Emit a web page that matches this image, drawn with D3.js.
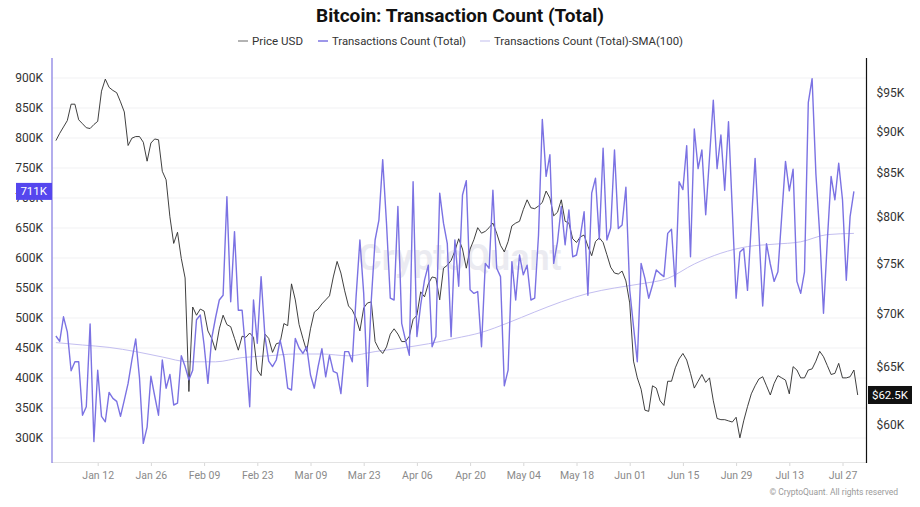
<!DOCTYPE html>
<html><head><meta charset="utf-8">
<script src="https://cdn.jsdelivr.net/npm/d3@7"></script>
<style>
body{margin:0;background:#fff;}
svg{display:block;font-family:Roboto,"Noto Sans",sans-serif;}
</style>
</head><body>
<svg id="chart" width="920" height="507"></svg>
<script>
// ---------------- DATA ----------------
const startDate = "2025-01-01";           // first daily observation
const seriesNames = ["Price USD", "Transactions Count (Total)", "Transactions Count (Total)-SMA(100)"];

// Transactions Count (Total), daily, in thousands
const txCountK = [470,461,502,477,412,427,427,338,352,490,
294,413,336,327,376,366,361,336,363,391,
430,465,400,291,318,403,370,338,430,383,
406,355,358,437,419,397,413,497,505,455,
391,466,500,530,538,702,527,644,513,513,
440,352,530,458,569,470,428,419,430,463,
435,383,380,466,450,441,452,405,383,419,
449,402,438,411,408,374,444,444,427,536,
630,541,386,530,630,663,764,658,533,530,
686,491,463,438,727,469,522,563,588,452,
469,708,658,624,469,630,553,705,729,547,
541,544,452,591,583,713,583,569,387,413,
594,530,605,572,588,530,533,638,831,736,
772,591,627,686,622,680,602,605,636,677,
538,708,733,631,783,630,650,780,649,655,
718,547,486,427,591,566,533,555,580,574,
569,641,648,552,727,714,787,602,815,749,
780,672,767,863,749,805,713,827,680,533,
610,616,546,656,766,643,520,624,590,561,
577,669,761,712,748,561,541,577,859,899,
740,640,508,628,736,697,758,697,563,669,
711];

// Price USD, daily, in thousands of dollars
const priceK = [88.9,89.8,90.6,91.4,93.5,93.5,91.5,91.0,90.5,90.4,
90.9,91.3,95.2,96.8,95.7,95.3,95.0,93.8,92.5,88.3,
89.2,89.4,89.4,88.7,86.4,88.6,89.1,89.0,85.2,84.2,
80.0,77.1,78.3,75.5,73.5,62.8,70.6,69.8,70.4,70.2,
68.3,67.6,66.5,68.5,69.8,68.9,68.7,67.6,66.5,67.8,
67.7,68.1,67.7,64.7,64.2,68.0,67.6,66.3,67.1,67.2,
69.0,68.8,72.9,71.3,68.9,67.6,66.4,68.5,70.1,70.4,
70.9,71.3,71.7,73.6,75.2,74.0,72.2,70.7,70.3,69.5,
68.3,70.5,71.0,71.1,67.3,66.6,66.2,66.8,68.0,68.5,
68.0,67.3,67.3,67.8,69.4,69.8,72.1,71.6,72.9,73.6,
73.5,71.3,74.5,74.8,75.3,76.3,77.6,76.5,74.5,76.5,
77.5,78.8,78.2,78.4,78.8,79.3,78.2,76.9,76.2,77.3,
79.0,79.3,79.5,80.8,81.9,81.0,80.9,81.2,81.6,82.9,
82.1,80.1,80.5,81.9,79.5,79.3,77.6,77.2,77.8,78.0,
76.8,75.8,77.3,77.7,77.2,75.9,74.6,74.0,73.9,74.2,
73.2,71.0,65.5,64.0,63.0,61.2,61.1,63.3,63.1,62.0,
61.6,63.7,63.7,64.9,65.7,66.2,65.6,64.4,63.1,63.7,
64.3,63.6,64.0,62.0,60.5,60.4,60.4,60.3,60.2,60.6,
58.9,60.3,61.5,62.6,63.3,63.9,64.1,63.3,62.5,63.5,
64.2,64.0,63.8,62.6,65.0,64.7,64.0,64.0,64.7,64.8,
65.5,66.4,65.9,65.1,64.3,64.4,65.3,64.0,64.0,64.1,
64.7,62.5];

// SMA(100) of transaction count, read weekly (day offset from startDate), in thousands
const smaDayOffsets = [0,7,14,21,28,35,42,49,56,63,70,77,84,91,98,105,112,119,126,133,140,147,154,161,168,175,182,189,196,203,210];
const smaK = [459,455,451,444,435,427,427,434,437,440,440,437,444,450,457,466,476,492,510,527,541,550,557,566,590,608,619,623,627,639,641];

// Tick labels
const leftTicksK = [300,350,400,450,500,550,600,650,700,750,800,850,900];
const rightTicksK = [60,65,70,75,80,85,90,95];
const xTickDates = ["2025-01-12","2025-01-26","2025-02-09","2025-02-23","2025-03-09","2025-03-23","2025-04-06","2025-04-20","2025-05-04","2025-05-18","2025-06-01","2025-06-15","2025-06-29","2025-07-13","2025-07-27"];

// ---------------- CHART ----------------
const parse = d3.utcParse("%Y-%m-%d");
const t0 = parse(startDate);
const dayAt = i => d3.utcDay.offset(t0, i);

const txData = txCountK.map((v, i) => ({date: dayAt(i), v}));
const priceData = priceK.map((v, i) => ({date: dayAt(i), v}));
const smaData = smaK.map((v, i) => ({date: dayAt(smaDayOffsets[i]), v}));

const svg = d3.select("#chart");
const L = 52, R = 866.5, T = 60, B = 462;

const x = d3.scaleUtc().domain([t0, dayAt(211)]).range([55.9, 857.7]);
const yL = d3.scaleLinear().domain([260, 930]).range([B, T]);
const yR = d3.scaleLog().domain([56.96, 99.4]).range([B, T]);

svg.append("rect").attr("width", 920).attr("height", 507).attr("fill", "#fff");

// title
svg.append("text").attr("x", 460).attr("y", 22).attr("text-anchor", "middle")
  .attr("font-size", 18).attr("font-weight", 700).attr("fill", "#111")
  .attr("textLength", 288).attr("lengthAdjust", "spacingAndGlyphs")
  .text("Bitcoin: Transaction Count (Total)");

// legend
const legendItems = [
  {name: seriesNames[0], color: "#9a9a9a", x: 238, w: 51},
  {name: seriesNames[1], color: "#7c74e2", x: 318, w: 134},
  {name: seriesNames[2], color: "#d6d3f3", x: 480, w: 189}
];
const lg = svg.append("g");
legendItems.forEach(it => {
  lg.append("line").attr("x1", it.x).attr("x2", it.x + 10).attr("y1", 41).attr("y2", 41)
    .attr("stroke", it.color).attr("stroke-width", 1.5);
  lg.append("text").attr("x", it.x + 14).attr("y", 45).attr("font-size", 11.5).attr("fill", "#333")
    .attr("textLength", it.w).attr("lengthAdjust", "spacingAndGlyphs").text(it.name);
});

// grid
svg.append("g").selectAll("line").data(leftTicksK).join("line")
  .attr("x1", L).attr("x2", R).attr("y1", d => yL(d)).attr("y2", d => yL(d))
  .attr("stroke", "#f1f1f3").attr("stroke-width", 1);

// watermark
svg.append("text").attr("x", 460).attr("y", 270).attr("text-anchor", "middle")
  .attr("font-size", 36).attr("font-weight", 600).attr("fill", "#dcdce6").attr("opacity", 0.55)
  .text("CryptoQuant");

// x axis
const xa = svg.append("g").attr("transform", `translate(0,${B})`)
  .call(d3.axisBottom(x).tickValues(xTickDates.map(parse)).tickSize(4).tickPadding(6)
    .tickFormat(d3.utcFormat("%b %d")));
xa.select(".domain").remove();
xa.selectAll(".tick line").attr("stroke", "#d8d8d8");
xa.selectAll(".tick text").attr("fill", "#8a8a8a").attr("font-size", 10.5).attr("font-family", "Roboto,sans-serif");
svg.append("line").attr("x1", L).attr("x2", R).attr("y1", B + 0.5).attr("y2", B + 0.5).attr("stroke", "#e3e3e3");

// left axis
const la = svg.append("g").attr("transform", `translate(${L},0)`)
  .call(d3.axisLeft(yL).tickValues(leftTicksK).tickSize(0).tickPadding(9).tickFormat(d => d + "K"));
la.select(".domain").remove();
la.selectAll(".tick text").attr("fill", "#333").attr("font-size", 12).attr("font-family", "Roboto,sans-serif");
svg.append("line").attr("x1", L).attr("x2", L).attr("y1", 58).attr("y2", B + 1).attr("stroke", "#8a82e4").attr("stroke-width", 1.3);

// right axis
const ra = svg.append("g").attr("transform", `translate(${R},0)`)
  .call(d3.axisRight(yR).tickValues(rightTicksK).tickSize(0).tickPadding(10).tickFormat(d => "$" + d + "K"));
ra.select(".domain").remove();
ra.selectAll(".tick text").attr("fill", "#333").attr("font-size", 12).attr("font-family", "Roboto,sans-serif");
svg.append("line").attr("x1", R).attr("x2", R).attr("y1", 58).attr("y2", B + 1).attr("stroke", "#111").attr("stroke-width", 1.2);

// series
svg.append("path").datum(smaData)
  .attr("fill", "none").attr("stroke", "#c3bef0").attr("stroke-width", 1)
  .attr("d", d3.line().x(d => x(d.date)).y(d => yL(d.v)).curve(d3.curveMonotoneX));

svg.append("path").datum(priceData)
  .attr("fill", "none").attr("stroke", "#2a2a2a").attr("stroke-width", 0.9)
  .attr("d", d3.line().x(d => x(d.date)).y(d => yR(d.v)));

svg.append("path").datum(txData)
  .attr("fill", "none").attr("stroke", "#7b72e3").attr("stroke-width", 1.4).attr("stroke-linejoin", "round")
  .attr("d", d3.line().x(d => x(d.date)).y(d => yL(d.v)));

// last-value badges
const lastTx = txCountK[txCountK.length - 1];
const yTx = yL(lastTx);
svg.append("rect").attr("x", 16).attr("y", yTx - 8.5).attr("width", 36).attr("height", 17).attr("fill", "#5546ee");
svg.append("text").attr("x", 47).attr("y", yTx + 4).attr("text-anchor", "end").attr("font-size", 11.5)
  .attr("fill", "#fff").text(Math.round(lastTx) + "K");

const lastPrice = priceK[priceK.length - 1];
const yP = yR(lastPrice);
svg.append("rect").attr("x", 868).attr("y", yP - 9).attr("width", 44).attr("height", 18).attr("fill", "#111");
svg.append("text").attr("x", 890).attr("y", yP + 4).attr("text-anchor", "middle").attr("font-size", 11.5)
  .attr("fill", "#fff").text("$" + lastPrice + "K");

// footnote
svg.append("text").attr("x", 898).attr("y", 495).attr("text-anchor", "end").attr("font-size", 8.5)
  .attr("fill", "#9a9a9a").text("© CryptoQuant. All rights reserved");
</script>
</body></html>
